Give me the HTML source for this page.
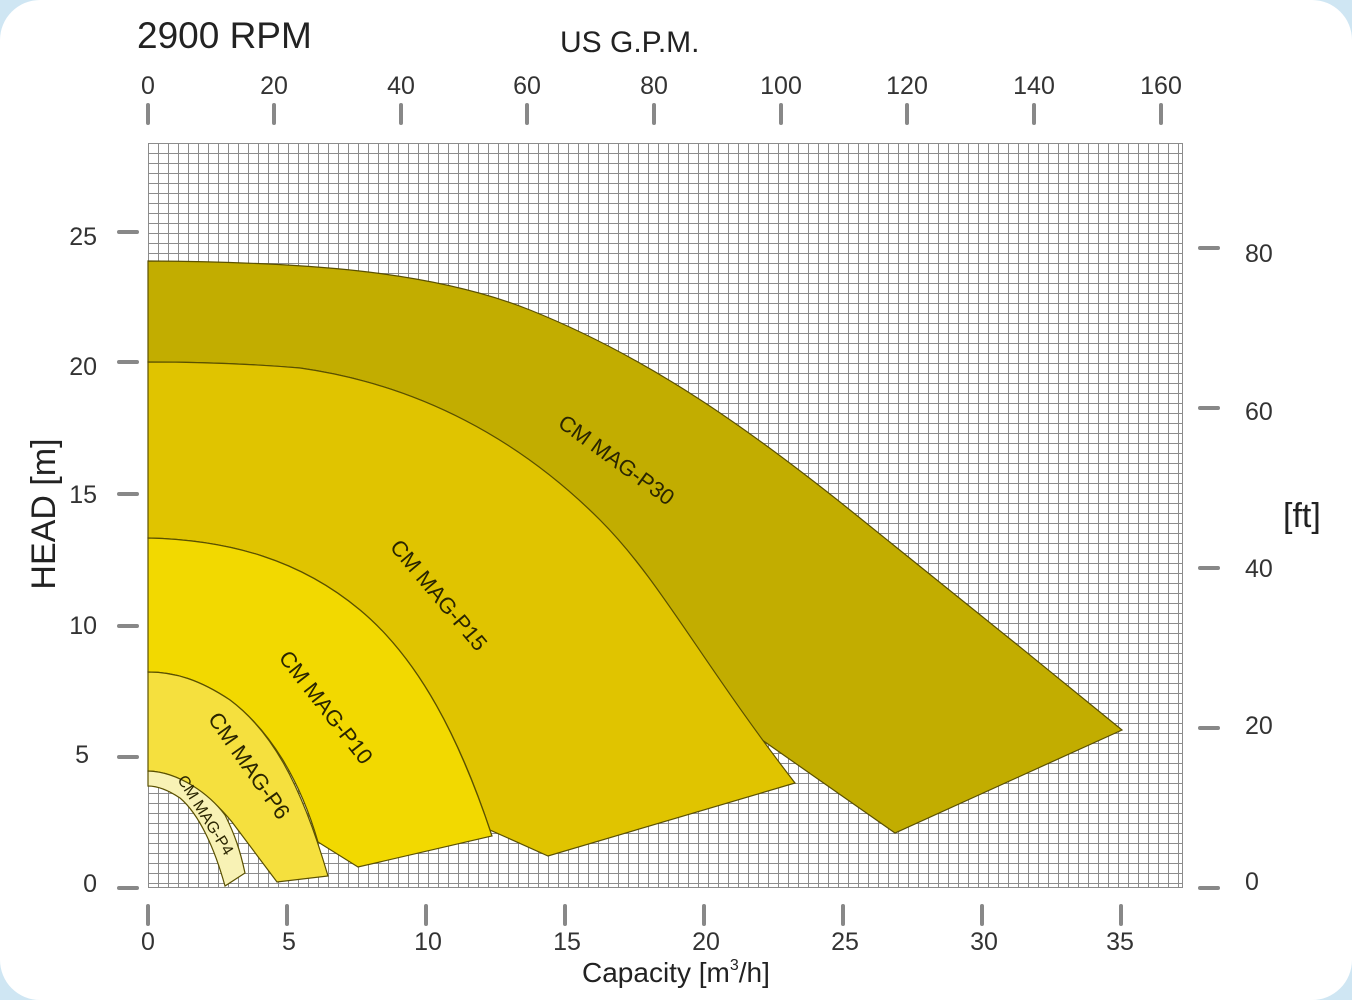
<!DOCTYPE html>
<html><head><meta charset="utf-8"><style>
html,body{margin:0;padding:0;background:#cfe6f3;}
body{width:1352px;height:1000px;overflow:hidden;position:relative;}
.card{position:absolute;left:0;top:0;width:1352px;height:1000px;background:#fff;border-radius:40px;}
svg{position:absolute;left:0;top:0;}
text{font-family:"Liberation Sans Narrow","Liberation Sans",sans-serif;fill:#333;}
</style></head><body><div class="card"></div>
<svg width="1352" height="1000" viewBox="0 0 1352 1000">
<defs>
<pattern id="g" x="148" y="143" width="10" height="10" patternUnits="userSpaceOnUse">
<path d="M0.5 0V10M0 0.5H10" stroke="#8c8c8c" stroke-width="1" fill="none"/>
</pattern>
</defs>
<rect x="148" y="143" width="1035" height="745" fill="#fff"/>
<rect x="148" y="143" width="1035" height="745" fill="url(#g)"/>
<rect x="148.5" y="143.5" width="1034" height="744" fill="none" stroke="#8c8c8c"/>
<g stroke="#5a5000" stroke-width="1.2">
<path fill="#c2ad00" d="M148 261 C300 262 430 270 530 310 C650 358 750 430 850 510 C950 590 1030 655 1122 730 L895 833 L755 735 C700 660 660 580 600 520 C520 440 420 385 300 368 C240 363 190 362 148 362 Z"/>
<path fill="#e0c400" d="M148 362 C190 362 240 363 300 368 C420 385 520 440 600 520 C660 580 700 660 795 783 L548 856 L490 830 C460 740 420 660 360 610 C300 560 230 540 148 538 Z"/>
<path fill="#f2d900" d="M148 538 C230 540 300 560 360 610 C420 660 460 740 492 836 L358 867 L318 842 C300 780 270 730 230 700 C200 680 175 672 148 672 Z"/>
<path fill="#f5e03e" d="M148 672 C175 672 200 680 230 700 C270 730 300 780 328 876 L277 882 L232 822 C210 795 180 772 148 771 Z"/>
<path fill="#f8f2b5" d="M148 771 C180 772 210 795 225 815 C235 835 240 850 245 873 L225 886 C215 850 200 815 180 798 C168 790 158 786 148 786 Z"/>
</g>
<g font-size="22">
<text transform="translate(612,466) rotate(36)" text-anchor="middle" style="fill:#2a2500">CM MAG-P30</text>
<text transform="translate(433,600) rotate(50)" text-anchor="middle" style="fill:#2a2500">CM MAG-P15</text>
<text transform="translate(320,712) rotate(52)" text-anchor="middle" style="fill:#2a2500">CM MAG-P10</text>
<text transform="translate(243,770) rotate(55)" text-anchor="middle" style="fill:#2a2500">CM MAG-P6</text>
<text transform="translate(201,818) rotate(58)" text-anchor="middle" font-size="16" style="fill:#2a2500">CM MAG-P4</text>
</g>
<g stroke="#888" stroke-width="4" stroke-linecap="round">
<line x1="148" y1="105" x2="148" y2="123"/><line x1="274" y1="105" x2="274" y2="123"/><line x1="401" y1="105" x2="401" y2="123"/><line x1="527" y1="105" x2="527" y2="123"/><line x1="654" y1="105" x2="654" y2="123"/><line x1="781" y1="105" x2="781" y2="123"/><line x1="907" y1="105" x2="907" y2="123"/><line x1="1034" y1="105" x2="1034" y2="123"/><line x1="1161" y1="105" x2="1161" y2="123"/>
<line x1="148" y1="906" x2="148" y2="924"/><line x1="287" y1="906" x2="287" y2="924"/><line x1="426" y1="906" x2="426" y2="924"/><line x1="565" y1="906" x2="565" y2="924"/><line x1="704" y1="906" x2="704" y2="924"/><line x1="843" y1="906" x2="843" y2="924"/><line x1="982" y1="906" x2="982" y2="924"/><line x1="1121" y1="906" x2="1121" y2="924"/>
<line x1="119" y1="232" x2="137" y2="232"/><line x1="119" y1="362" x2="137" y2="362"/><line x1="119" y1="494" x2="137" y2="494"/><line x1="119" y1="626" x2="137" y2="626"/><line x1="119" y1="757" x2="137" y2="757"/><line x1="119" y1="888" x2="137" y2="888"/>
<line x1="1200" y1="248" x2="1218" y2="248"/><line x1="1200" y1="408" x2="1218" y2="408"/><line x1="1200" y1="568" x2="1218" y2="568"/><line x1="1200" y1="728" x2="1218" y2="728"/><line x1="1200" y1="888" x2="1218" y2="888"/>
</g>
<g font-size="25" text-anchor="middle">
<text x="148" y="94">0</text><text x="274" y="94">20</text><text x="401" y="94">40</text><text x="527" y="94">60</text><text x="654" y="94">80</text><text x="781" y="94">100</text><text x="907" y="94">120</text><text x="1034" y="94">140</text><text x="1161" y="94">160</text>
<text x="148" y="950">0</text><text x="289" y="950">5</text><text x="428" y="950">10</text><text x="567" y="950">15</text><text x="706" y="950">20</text><text x="845" y="950">25</text><text x="984" y="950">30</text><text x="1120" y="950">35</text>
</g>
<g font-size="25" text-anchor="end">
<text x="97" y="245">25</text><text x="97" y="375">20</text><text x="97" y="503">15</text><text x="97" y="634">10</text><text x="89" y="763">5</text><text x="97" y="892">0</text>
</g>
<g font-size="25">
<text x="1245" y="262">80</text><text x="1245" y="420">60</text><text x="1245" y="577">40</text><text x="1245" y="734">20</text><text x="1245" y="890">0</text>
</g>
<text x="137" y="48" font-size="37" style="font-family:'Liberation Sans',sans-serif;fill:#222">2900 RPM</text>
<text x="560" y="52" font-size="30" style="font-family:'Liberation Sans',sans-serif;fill:#222">US G.P.M.</text>
<text transform="translate(55,514) rotate(-90)" text-anchor="middle" font-size="34" style="fill:#222">HEAD [m]</text>
<text x="1283" y="527" font-size="34" style="fill:#222">[ft]</text>
<text x="582" y="982" font-size="28" style="fill:#222">Capacity  [m<tspan font-size="16" dy="-12">3</tspan><tspan dy="12">/h]</tspan></text>
</svg>
</body></html>
